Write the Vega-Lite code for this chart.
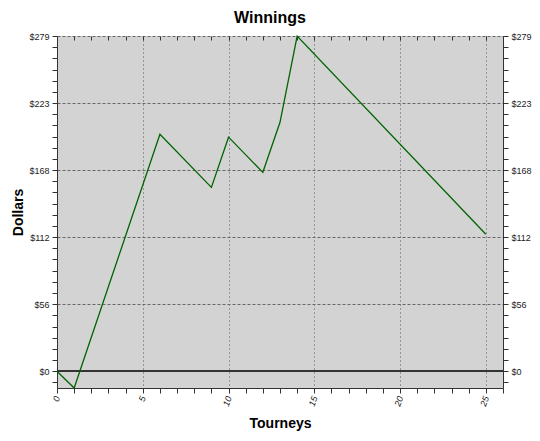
{
  "$schema": "https://vega.github.io/schema/vega-lite/v6.json",
  "width": 446,
  "height": 352,
  "autosize": {"type": "none"},
  "padding": {"left": 57, "top": 36, "right": 37, "bottom": 53},
  "background": "white",
  "title": {"text": "Winnings", "font": "Liberation Sans", "fontSize": 16, "fontWeight": "bold", "color": "black", "anchor": "middle", "dx": -10, "offset": 6},
  "data": {"values": [
    {"t": 0, "d": 0},
    {"t": 1, "d": -14},
    {"t": 6, "d": 197.4},
    {"t": 9, "d": 153.2},
    {"t": 10, "d": 195},
    {"t": 12, "d": 165.7},
    {"t": 13, "d": 207.4},
    {"t": 14, "d": 279.3},
    {"t": 25, "d": 114.1}
  ]},
  "layer": [
    {
      "mark": {"type": "rule", "color": "#333", "strokeWidth": 1},
      "encoding": {"y": {"datum": 0, "type": "quantitative", "axis": null}}
    },
    {
      "mark": {"type": "line", "color": "#006400", "strokeWidth": 1.3},
      "encoding": {
        "x": {"field": "t", "type": "quantitative", "scale": {"domain": [0, 26], "nice": false, "zero": false},
          "axis": {"orient": "bottom", "title": "Tourneys",
            "values": [0,1,2,3,4,5,6,7,8,9,10,11,12,13,14,15,16,17,18,19,20,21,22,23,24,25,26],
            "labelExpr": "datum.value % 5 == 0 && datum.value < 26 ? datum.label : ''",
            "labelAngle": -70, "labelFontStyle": "italic",
            "grid": true, "gridDash": [1, 3], "gridColor": "#555",
            "gridOpacity": {"condition": {"test": "datum.value % 5 == 0 && datum.value > 0 && datum.value < 26", "value": 1}, "value": 0},
            "tickSize": 5, "titlePadding": 9}},
        "y": {"field": "d", "type": "quantitative", "scale": {"domain": [-14, 279.3], "nice": false, "zero": false},
          "axis": {"orient": "left", "title": "Dollars",
            "values": [-9.31, 0, 9.31, 18.62, 27.93, 37.24, 46.55, 55.86, 65.17, 74.48, 83.79, 93.1, 102.41, 111.72, 121.03, 130.34, 139.65, 148.96, 158.27, 167.58, 176.89, 186.2, 195.51, 204.82, 214.13, 223.44, 232.75, 242.06, 251.37, 260.68, 269.99, 279.3],
            "labelExpr": "abs(datum.value/55.86 - round(datum.value/55.86)) < 0.01 ? format(datum.value, '$.0f') : ''",
            "grid": true, "gridDash": [3, 2], "gridColor": "#666",
            "gridOpacity": {"condition": {"test": "abs(datum.value/55.86 - round(datum.value/55.86)) < 0.01 && datum.value > 1", "value": 1}, "value": 0},
            "tickSize": 5, "titlePadding": 3}}
      }
    },
    {
      "mark": {"type": "line", "opacity": 0},
      "encoding": {
        "x": {"field": "t", "type": "quantitative",
          "axis": {"orient": "top", "title": null, "domain": false, "labels": false, "grid": false,
            "values": [0,1,2,3,4,5,6,7,8,9,10,11,12,13,14,15,16,17,18,19,20,21,22,23,24,25,26],
            "tickSize": -4}},
        "y": {"field": "d", "type": "quantitative",
          "axis": {"orient": "right", "title": null, "grid": false,
            "values": [-9.31, 0, 9.31, 18.62, 27.93, 37.24, 46.55, 55.86, 65.17, 74.48, 83.79, 93.1, 102.41, 111.72, 121.03, 130.34, 139.65, 148.96, 158.27, 167.58, 176.89, 186.2, 195.51, 204.82, 214.13, 223.44, 232.75, 242.06, 251.37, 260.68, 269.99, 279.3],
            "labelExpr": "abs(datum.value/55.86 - round(datum.value/55.86)) < 0.01 ? format(datum.value, '$.0f') : ''",
            "tickSize": 5}}
      }
    }
  ],
  "resolve": {"axis": {"x": "independent", "y": "independent"}},
  "config": {
    "view": {"fill": "#d3d3d3", "stroke": null},
    "axis": {
      "labelFont": "Liberation Sans", "labelFontSize": 9, "labelColor": "#222",
      "titleFont": "Liberation Sans", "titleFontSize": 14, "titleFontWeight": "bold", "titleColor": "black",
      "domainColor": "#333", "tickColor": "#333", "labelPadding": 3
    }
  }
}
